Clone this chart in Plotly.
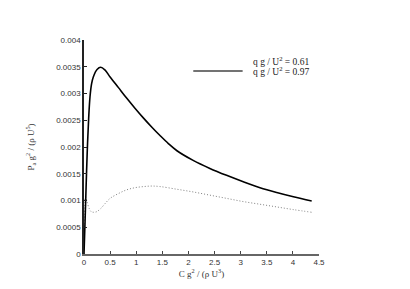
import plotly.graph_objects as go

# Solid curve: q g / U^2 = 0.97
x_097 = [0, 0.02, 0.04, 0.063, 0.09, 0.115, 0.145, 0.178, 0.25, 0.32, 0.40, 0.50, 0.66, 0.82, 0.98, 1.14, 1.30,
         1.46, 1.62, 1.78, 2.09, 2.41, 2.73, 3.05, 3.37, 3.69, 4.01, 4.36]
y_097 = [0, 0.0006, 0.00125, 0.00194, 0.00255, 0.00294, 0.00318, 0.00331, 0.00345, 0.00349, 0.00344, 0.00331,
         0.00311, 0.00291, 0.00272, 0.00254, 0.00237, 0.00221, 0.00206, 0.00193, 0.00175, 0.00160, 0.00147,
         0.00135, 0.00124, 0.00115, 0.00107, 0.00099]

# Dotted curve: q g / U^2 = 0.61
x_061 = [0, 0.015, 0.03, 0.06, 0.1, 0.14, 0.18, 0.24, 0.32, 0.41, 0.5, 0.66, 0.82, 0.98, 1.14, 1.30, 1.46, 1.78,
         2.09, 2.41, 2.73, 3.05, 3.37, 3.69, 4.01, 4.36]
y_061 = [0, 0.0009, 0.00107, 0.00097, 0.00085, 0.00079, 0.00078, 0.00079, 0.00085, 0.00095, 0.00104, 0.00113,
         0.0012, 0.00124, 0.00126, 0.00127, 0.00126, 0.00121, 0.00116, 0.0011, 0.00104, 0.00098, 0.00093,
         0.00088, 0.00083, 0.00078]

y_ticks = [0, 0.0005, 0.001, 0.0015, 0.002, 0.0025, 0.003, 0.0035, 0.004]
y_tick_labels = ["0", "0.0005", "0.001", "0.0015", "0.002", "0.0025", "0.003", "0.0035", "0.004"]
x_ticks = [0, 0.5, 1, 1.5, 2, 2.5, 3, 3.5, 4, 4.5]
x_tick_labels = ["0", "0.5", "1", "1.5", "2", "2.5", "3", "3.5", "4", "4.5"]

legend_labels = ["q g / U<sup>2</sup> = 0.61", "q g / U<sup>2</sup> = 0.97"]

fig = go.Figure()
fig.add_trace(go.Scatter(x=x_061, y=y_061, mode="lines",
                         line=dict(color="#808080", width=1, dash="1px,2px", shape="spline", smoothing=1.0),
                         showlegend=False))
fig.add_trace(go.Scatter(x=x_097, y=y_097, mode="lines",
                         line=dict(color="black", width=1.6, shape="spline", smoothing=1.0),
                         showlegend=False))

tickfont = dict(family="Liberation Sans, Arial", size=8, color="#333333")
titlefont = dict(family="Liberation Serif, Times New Roman", size=9, color="#333333")
legfont = dict(family="Liberation Serif, Times New Roman", size=9.5, color="#222222")

fig.update_layout(
    width=394, height=273,
    margin=dict(l=76, r=83, t=32, b=27),
    paper_bgcolor="white", plot_bgcolor="white",
    xaxis=dict(range=[0, 4.5], tickvals=x_ticks, ticktext=x_tick_labels, ticks="inside", ticklen=3,
               tickcolor="#444444", showline=True, linecolor="#666666", linewidth=1.5, showgrid=False,
               zeroline=False, tickfont=tickfont, automargin=False,
               title=dict(text="C g<sup>2</sup> / (ρ U<sup>3</sup>)", font=titlefont, standoff=2)),
    yaxis=dict(range=[0, 0.004], tickvals=y_ticks, ticktext=y_tick_labels, ticks="inside", ticklen=3,
               tickcolor="#222222", showline=True, linecolor="#222222", linewidth=1.5, showgrid=False,
               zeroline=False, tickfont=tickfont, automargin=False,
               title=dict(text="P<sub>a</sub> g<sup>2</sup> / (ρ U<sup>5</sup>)", font=titlefont, standoff=20)),
)

# legend drawn as annotations
fig.add_annotation(xref="paper", yref="paper", x=0.965, y=0.902, text=legend_labels[0], showarrow=False,
                   xanchor="right", yanchor="middle", font=legfont)
fig.add_annotation(xref="paper", yref="paper", x=0.965, y=0.853, text=legend_labels[1], showarrow=False,
                   xanchor="right", yanchor="middle", font=legfont)
fig.add_shape(type="line", xref="paper", yref="paper", x0=0.465, x1=0.675, y0=0.855, y1=0.855,
              line=dict(color="#444444", width=1.5))

fig.write_html("out.html")
